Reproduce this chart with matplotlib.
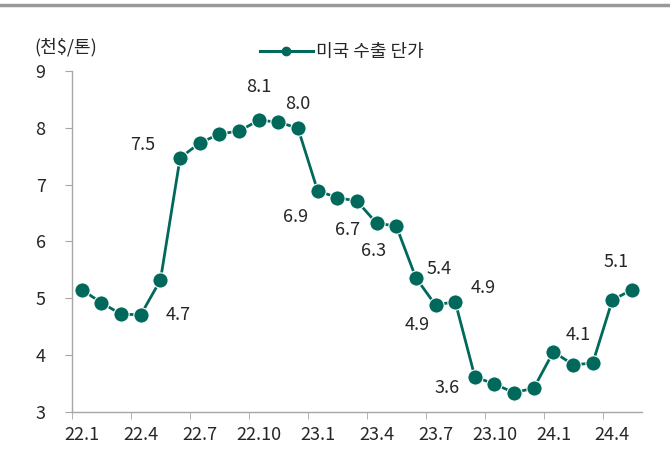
import matplotlib
matplotlib.use("Agg")
import matplotlib.pyplot as plt
from matplotlib.lines import Line2D

plt.rcParams['font.family'] = ['Noto Sans CJK KR', 'DejaVu Sans']

# monthly US export unit price, 22.1 .. 24.5 (thousand $/ton)
months = ["22.1", "22.2", "22.3", "22.4", "22.5", "22.6", "22.7", "22.8", "22.9", "22.10",
          "22.11", "22.12", "23.1", "23.2", "23.3", "23.4", "23.5", "23.6", "23.7", "23.8",
          "23.9", "23.10", "23.11", "23.12", "24.1", "24.2", "24.3", "24.4", "24.5"]
price = [5.15, 4.92, 4.72, 4.71, 5.32, 7.47, 7.73, 7.89, 7.94, 8.13,
         8.10, 7.99, 6.89, 6.77, 6.71, 6.32, 6.27, 5.36, 4.88, 4.94,
         3.62, 3.49, 3.34, 3.42, 4.06, 3.83, 3.86, 4.97, 5.15]
label_idx = [3, 5, 9, 11, 12, 14, 16, 17, 18, 19, 20, 24, 28]
label_text = ["4.7", "7.5", "8.1", "8.0", "6.9", "6.7", "6.3", "5.4", "4.9", "4.9", "3.6", "4.1", "5.1"]
label_off = [(37, 0), (-37, 13), (0, 33), (0, 24), (-22, -26), (-9, -29), (-23, -25),
             (23, 9), (-18, -20), (28, 14), (-28, -11), (25, 17), (-16, 28)]

TEAL = "#00695C"
TXT = "#262626"
GRID = "#A6A6A6"
FS = 13

fig = plt.figure(figsize=(6.7, 4.57), dpi=100)
ax = fig.add_axes([0.1075, 0.0985, 0.8505, 0.7465])

x = list(range(len(months)))
ax.plot(x, price, color=TEAL, lw=2.0, marker="o", ms=11,
        markerfacecolor=TEAL, markeredgecolor="white", markeredgewidth=0.8, zorder=3)

for i, t, (dx, dy) in zip(label_idx, label_text, label_off):
    ax.annotate(t, (x[i], price[i]), xytext=(dx, dy), textcoords="offset pixels",
                ha="center", va="center", fontsize=FS, color=TXT)

ax.set_xlim(-0.5, len(months) - 0.5)
ax.set_ylim(3, 9)
ax.set_yticks(range(3, 10))
ax.set_xticks(x[::3])
ax.set_xticklabels(months[::3])
ax.set_xticks([i - 0.5 for i in x[::3]], minor=True)
ax.tick_params(axis="x", which="major", length=0, pad=10, labelsize=FS, labelcolor=TXT)
ax.tick_params(axis="x", which="minor", length=5, color=GRID)
ax.tick_params(axis="y", length=5, color=GRID, pad=14, labelsize=FS, labelcolor=TXT)

for s in ["top", "right"]:
    ax.spines[s].set_visible(False)
for s in ["left", "bottom"]:
    ax.spines[s].set_color(GRID)
    ax.spines[s].set_linewidth(1.0)

# unit label and legend
fig.text(66 / 670, 1 - 47 / 457, "(천$/톤)", ha="center", va="center", fontsize=FS, color=TXT)
handle = Line2D([], [], color=TEAL, lw=2.2, marker="o", ms=6,
                markerfacecolor=TEAL, markeredgecolor=TEAL)
fig.legend([handle], ["미국 수출 단가"], loc="center", bbox_to_anchor=(342 / 670, 1 - 52 / 457),
           frameon=False, fontsize=FS, handlelength=2.9, handletextpad=0.2, labelcolor=TXT)

# top rule
fig.add_artist(Line2D([0, 1], [1 - 5 / 457] * 2, color="#999999", lw=2.5,
                      transform=fig.transFigure))

fig.savefig("out.png", dpi=100)
